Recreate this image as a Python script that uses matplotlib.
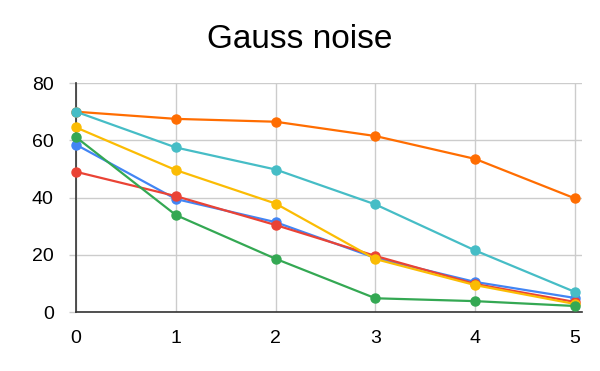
import matplotlib
matplotlib.use('Agg')
import matplotlib.pyplot as plt

plt.rcParams['font.family'] = ['Liberation Sans', 'DejaVu Sans']

steps = [0, 1, 2, 3, 4, 5]
blue = [58.5, 39.5, 31.4, 18.9, 10.5, 4.9]
red = [49.0, 40.5, 30.4, 19.6, 9.8, 3.5]
yellow = [64.5, 49.6, 37.9, 18.5, 9.4, 2.8]
green = [61.1, 33.9, 18.6, 4.8, 3.8, 2.1]
orange = [70.0, 67.5, 66.5, 61.5, 53.5, 39.7]
cyan = [70.0, 57.5, 49.8, 37.6, 21.5, 7.0]

series = [
    (blue, '#4285F4'),
    (red, '#EA4335'),
    (yellow, '#FBBC04'),
    (green, '#34A853'),
    (orange, '#FF6D01'),
    (cyan, '#46BDC6'),
]

fig = plt.figure(figsize=(6, 3.71), dpi=100)
ax = fig.add_axes([0.1267, 0.159, 0.8433, 0.617])

for vals, col in series:
    ax.plot(steps, vals, color=col, linewidth=1.6, marker='o', markersize=6.5,
            clip_on=False, zorder=3)

ax.set_xlim(0, 5.07)
ax.set_ylim(0, 80)
ax.set_xticks(steps)
ax.set_yticks([0, 20, 40, 60, 80])
ax.grid(True, color='#cccccc', linewidth=1)
ax.set_axisbelow(True)
for s in ['top', 'right']:
    ax.spines[s].set_visible(False)
for s in ['left', 'bottom']:
    ax.spines[s].set_color('#333333')
    ax.spines[s].set_linewidth(1.2)
ax.tick_params(axis='y', length=5, width=1, color='#cccccc', labelsize=14, pad=11)
ax.tick_params(axis='x', length=0, labelsize=14, pad=13)

fig.text(0.5, 0.871, 'Gauss noise', fontsize=24, ha='center', va='baseline')

fig.savefig('out.png', dpi=100)
